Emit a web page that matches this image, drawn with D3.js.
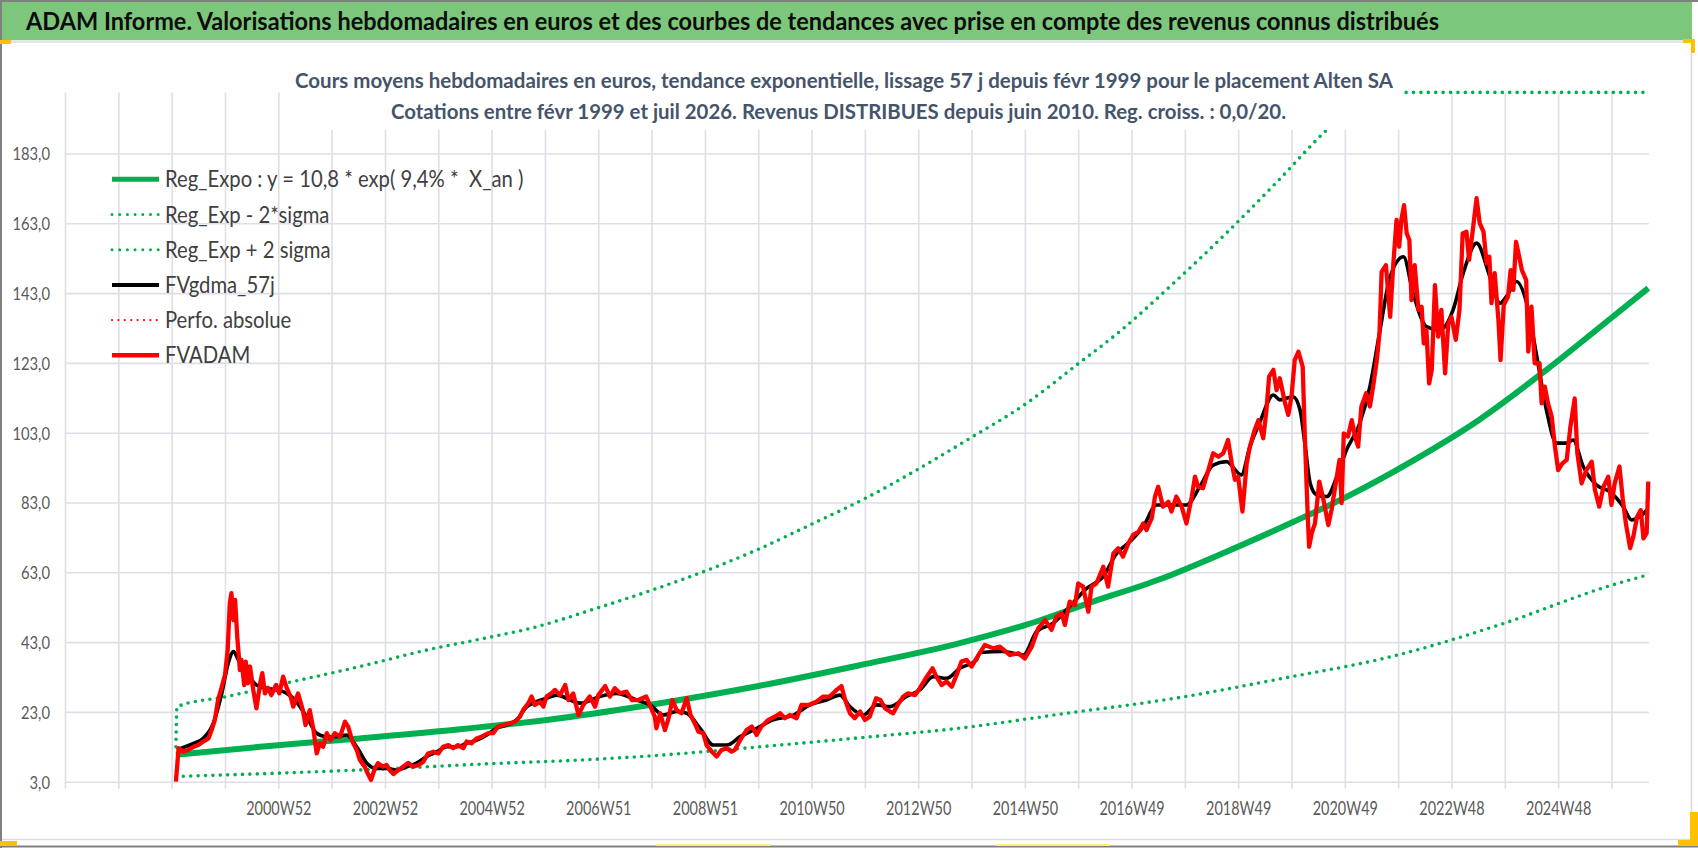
<!DOCTYPE html>
<html>
<head>
<meta charset="utf-8">
<script src="https://cdn.jsdelivr.net/npm/d3@7"></script>
<style>
	body { margin: 0; background: #fff; }
	svg { display: block; }
	text { font-family: Lato, 'Open Sans', sans-serif; }
</style>
</head>
<body>
<svg id="chart" width="1698" height="848"></svg>
<script>
// axis ticks / labels
const yTicks = [3, 23, 43, 63, 83, 103, 123, 143, 163, 183]
const yearGrid = d3.range(1997, 2027)
const xTickYears = [2001, 2003, 2005, 2007, 2009, 2011, 2013, 2015, 2017, 2019, 2021, 2023, 2025]
const xTickLabels = ['2000W52', '2002W52', '2004W52', '2006W51', '2008W51', '2010W50', '2012W50',
	'2014W50', '2016W49', '2018W49', '2020W49', '2022W48', '2024W48']

const legendLabels = [
	'Reg_Expo : y = 10,8 * exp( 9,4% *  X_an )',
	'Reg_Exp - 2*sigma',
	'Reg_Exp + 2 sigma',
	'FVgdma_57j',
	'Perfo. absolue',
	'FVADAM',
]

const bannerTitle = 'ADAM Informe. Valorisations hebdomadaires en euros et des courbes de tendances avec prise en compte des revenus connus distribués'
const subTitle1 = 'Cours moyens hebdomadaires en euros, tendance exponentielle, lissage 57 j depuis févr 1999 pour le placement Alten SA'
const subTitle2 = 'Cotations entre févr 1999 et juil 2026. Revenus DISTRIBUES depuis juin 2010. Reg. croiss. : 0,0/20.'

// series: [year position, value in euros]
const regExpo = [[1999.08, 10.7], [2000.66, 13.0], [2002.53, 15.4], [2004.41, 18.0], [2006.28, 21.2],
	[2008.16, 25.5], [2010.03, 30.5], [2011.91, 36.4], [2013.78, 42.7], [2015.03, 48.0], [2016.28, 54.6],
	[2017.53, 61.0], [2018.78, 68.9], [2020.03, 77.4], [2021.03, 84.6], [2022.28, 95.0], [2023.53, 106.8],
	[2024.78, 121.0], [2026.03, 136.3], [2026.69, 144.4]]

const regMinus = [[1999.08, 4.5], [2001.28, 5.6], [2003.16, 6.8], [2005.03, 8.2], [2006.66, 9.2],
	[2008.16, 10.6], [2010.03, 13.0], [2011.91, 15.6], [2013.75, 18.3], [2015.78, 22.6], [2017.81, 26.9],
	[2019.83, 32.6], [2021.86, 38.8], [2023.89, 47.9], [2025.92, 58.9], [2026.69, 62.3]]

const regPlus = [[1999.08, 13.0], [1999.10, 24.5], [2000.03, 27.4], [2001.28, 31.7], [2002.53, 36.0],
	[2003.78, 40.7], [2005.03, 44.6], [2005.72, 46.9], [2006.97, 52.7], [2007.97, 57.7], [2009.03, 63.5],
	[2009.97, 69.4], [2011.03, 77.0], [2011.97, 83.9], [2012.97, 92.3], [2013.97, 101.4], [2015.03, 111.4],
	[2015.97, 122.4], [2016.81, 132.4], [2017.8, 146], [2018.8, 160.5], [2019.8, 176], [2020.63, 189.3],
	[2021.5, 205], [2023, 235], [2024.5, 270], [2026.69, 330]]

const fvgdma = [[1999.10, 12.2], [1999.41, 14.0], [1999.59, 15.4], [1999.78, 19.7], [1999.94, 28.3],
	[2000.06, 36.9], [2000.16, 40.3], [2000.25, 37.9], [2000.41, 34.1], [2000.59, 30.7], [2000.78, 29.8],
	[2000.97, 29.3], [2001.16, 28.3], [2001.34, 25.9], [2001.53, 21.6], [2001.72, 16.9], [2001.91, 15.9],
	[2002.09, 15.9], [2002.28, 16.4], [2002.47, 13.0], [2002.66, 8.3], [2002.84, 6.8], [2003.03, 6.8],
	[2003.22, 6.3], [2003.41, 7.3], [2003.59, 8.3], [2003.78, 10.2], [2003.97, 11.6], [2004.16, 13.0],
	[2004.34, 13.0], [2004.53, 14.0], [2004.72, 14.9], [2004.91, 16.4], [2005.09, 18.3], [2005.28, 19.2],
	[2005.47, 20.7], [2005.66, 24.5], [2005.84, 25.9], [2006.03, 26.9], [2006.22, 27.8], [2006.66, 25.5],
	[2007.03, 27.4], [2007.34, 28.3], [2007.72, 26.4], [2007.97, 25.0], [2008.22, 22.1], [2008.47, 23.1],
	[2008.66, 22.6], [2008.91, 18.3], [2009.16, 13.5], [2009.41, 13.5], [2009.66, 15.9], [2009.97, 18.3],
	[2010.28, 20.7], [2010.66, 22.1], [2010.97, 25.0], [2011.28, 26.4], [2011.53, 27.8], [2011.72, 24.5],
	[2011.97, 22.1], [2012.22, 25.0], [2012.47, 24.5], [2012.78, 27.4], [2013.03, 29.3], [2013.28, 33.1],
	[2013.53, 32.6], [2013.78, 35.5], [2014.09, 37.9], [2014.16, 40.0], [2014.59, 40.3], [2014.97, 39.3],
	[2015.22, 46.0], [2015.53, 48.4], [2015.84, 53.2], [2016.16, 58.4], [2016.47, 61.8], [2016.72, 68.4],
	[2016.97, 71.8], [2017.22, 76.1], [2017.47, 82.3], [2017.72, 82.3], [2018.03, 82.3], [2018.28, 87.5],
	[2018.53, 93.7], [2018.78, 94.7], [2019.06, 90.9], [2019.22, 99.0], [2019.41, 106.2], [2019.66, 113.8],
	[2019.78, 112.4], [2020.03, 113.3], [2020.16, 109.5], [2020.25, 100.0], [2020.35, 88.5], [2020.47, 85.2],
	[2020.66, 84.7], [2020.85, 90.4], [2021.03, 98.0], [2021.28, 105.7], [2021.47, 116.2], [2021.66, 132.4],
	[2021.85, 147.7], [2022.10, 153.4], [2022.28, 142.9], [2022.53, 133.4], [2022.78, 132.4], [2023.03, 138.2],
	[2023.22, 148.7], [2023.47, 157.3], [2023.72, 147.7], [2023.91, 140.1], [2024.03, 142.0], [2024.22, 146.3],
	[2024.41, 140.1], [2024.60, 124.8], [2024.78, 109.5], [2024.97, 100.0], [2025.16, 100.0], [2025.28, 100.9],
	[2025.47, 93.3], [2025.72, 88.0], [2025.97, 86.1], [2026.22, 81.8], [2026.38, 78.0], [2026.53, 78.9],
	[2026.66, 80.8]]

const fvadam = [[1999.08, 3.0], [1999.13, 12.6], [1999.22, 11.6], [1999.31, 12.1], [1999.41, 13.0],
	[1999.50, 13.5], [1999.59, 14.5], [1999.69, 15.4], [1999.75, 17.8], [1999.81, 20.7], [1999.87, 26.4],
	[1999.94, 30.2], [2000.00, 33.6], [2000.05, 40.7], [2000.09, 54.1], [2000.12, 57.0], [2000.16, 49.3],
	[2000.19, 55.1], [2000.23, 44.6], [2000.28, 35.0], [2000.31, 37.9], [2000.36, 30.7], [2000.39, 37.4],
	[2000.43, 31.2], [2000.47, 36.0], [2000.53, 29.3], [2000.59, 24.0], [2000.66, 31.2], [2000.70, 34.1],
	[2000.75, 28.3], [2000.81, 29.8], [2000.87, 27.8], [2000.96, 30.7], [2001.02, 28.3], [2001.09, 33.1],
	[2001.16, 29.8], [2001.23, 27.4], [2001.28, 24.5], [2001.37, 28.3], [2001.46, 23.5], [2001.51, 19.2],
	[2001.59, 23.5], [2001.66, 17.8], [2001.72, 11.1], [2001.78, 14.0], [2001.84, 13.0], [2001.91, 16.9],
	[2001.98, 14.9], [2002.06, 16.9], [2002.16, 15.9], [2002.25, 20.2], [2002.31, 18.8], [2002.39, 14.5],
	[2002.47, 12.1], [2002.53, 9.2], [2002.62, 7.3], [2002.69, 4.9], [2002.74, 3.5], [2002.81, 6.8],
	[2002.87, 8.3], [2002.96, 7.3], [2003.03, 7.8], [2003.09, 6.3], [2003.16, 5.2], [2003.25, 6.3],
	[2003.34, 7.3], [2003.44, 8.4], [2003.53, 7.3], [2003.63, 7.8], [2003.72, 8.7], [2003.81, 11.1],
	[2003.91, 11.6], [2004.00, 11.1], [2004.09, 13.0], [2004.19, 13.5], [2004.28, 12.6], [2004.37, 13.5],
	[2004.47, 12.6], [2004.53, 14.5], [2004.62, 14.0], [2004.72, 15.4], [2004.81, 15.9], [2004.94, 16.9],
	[2005.03, 16.9], [2005.12, 18.8], [2005.22, 19.2], [2005.34, 19.7], [2005.44, 20.2], [2005.53, 21.6],
	[2005.59, 23.5], [2005.69, 25.5], [2005.75, 27.4], [2005.81, 25.0], [2005.91, 25.9], [2005.97, 24.5],
	[2006.03, 27.4], [2006.12, 28.3], [2006.19, 29.3], [2006.28, 27.8], [2006.38, 30.7], [2006.44, 26.4],
	[2006.53, 28.3], [2006.63, 22.1], [2006.72, 25.0], [2006.84, 27.4], [2006.94, 24.5], [2007.00, 27.8],
	[2007.13, 30.4], [2007.22, 27.4], [2007.31, 29.8], [2007.41, 28.3], [2007.53, 28.8], [2007.63, 26.4],
	[2007.75, 26.4], [2007.90, 27.4], [2007.98, 24.5], [2008.06, 21.6], [2008.09, 18.3], [2008.16, 22.6],
	[2008.25, 17.8], [2008.31, 20.7], [2008.39, 26.4], [2008.47, 23.5], [2008.56, 22.6], [2008.66, 26.9],
	[2008.73, 22.1], [2008.81, 19.7], [2008.88, 17.3], [2008.97, 16.9], [2009.03, 13.5], [2009.13, 11.6],
	[2009.22, 10.2], [2009.31, 12.1], [2009.41, 12.6], [2009.50, 11.6], [2009.56, 12.1], [2009.66, 14.9],
	[2009.78, 17.8], [2009.88, 18.8], [2009.97, 16.4], [2010.06, 18.8], [2010.19, 20.7], [2010.31, 21.6],
	[2010.41, 22.6], [2010.50, 21.2], [2010.59, 22.1], [2010.72, 21.2], [2010.81, 25.0], [2010.94, 25.0],
	[2011.09, 25.9], [2011.22, 27.4], [2011.34, 27.4], [2011.47, 29.3], [2011.56, 30.4], [2011.63, 26.4],
	[2011.72, 22.6], [2011.81, 21.2], [2011.91, 23.1], [2012.00, 20.7], [2012.09, 21.6], [2012.21, 26.9],
	[2012.29, 26.4], [2012.38, 24.0], [2012.47, 23.1], [2012.53, 22.6], [2012.63, 25.4], [2012.72, 27.4],
	[2012.81, 28.3], [2012.94, 27.8], [2013.03, 29.8], [2013.16, 33.1], [2013.27, 35.5], [2013.34, 33.1],
	[2013.44, 30.7], [2013.53, 31.7], [2013.63, 30.2], [2013.72, 33.6], [2013.81, 37.4], [2013.91, 37.9],
	[2014.00, 36.0], [2014.13, 39.3], [2014.25, 42.2], [2014.41, 41.2], [2014.53, 41.7], [2014.72, 39.3],
	[2014.88, 39.8], [2015.00, 38.3], [2015.13, 41.7], [2015.25, 46.9], [2015.38, 49.3], [2015.50, 46.5],
	[2015.59, 50.3], [2015.69, 51.2], [2015.75, 47.9], [2015.84, 54.6], [2015.94, 53.6], [2016.00, 59.8],
	[2016.09, 58.9], [2016.19, 51.7], [2016.25, 58.9], [2016.34, 59.8], [2016.47, 64.6], [2016.56, 58.9],
	[2016.66, 68.4], [2016.75, 69.9], [2016.84, 67.5], [2016.94, 71.3], [2017.03, 73.7], [2017.13, 74.6],
	[2017.22, 77.0], [2017.28, 75.1], [2017.38, 78.5], [2017.44, 84.7], [2017.50, 87.5], [2017.59, 81.8],
	[2017.69, 83.2], [2017.75, 80.4], [2017.84, 84.7], [2017.94, 81.8], [2018.03, 77.0], [2018.13, 84.7],
	[2018.19, 90.4], [2018.25, 87.5], [2018.34, 87.1], [2018.44, 92.3], [2018.53, 97.1], [2018.63, 96.1],
	[2018.72, 97.1], [2018.81, 100.9], [2018.88, 94.2], [2018.94, 89.5], [2019.00, 90.4], [2019.08, 80.4],
	[2019.16, 94.2], [2019.22, 99.0], [2019.31, 103.8], [2019.38, 106.6], [2019.47, 101.4], [2019.53, 109.5],
	[2019.58, 119.1], [2019.66, 121.0], [2019.72, 115.2], [2019.78, 118.6], [2019.88, 111.4], [2019.94, 108.1],
	[2020.00, 113.3], [2020.06, 123.8], [2020.13, 126.2], [2020.21, 121.9], [2020.25, 101.9], [2020.30, 80.8],
	[2020.33, 70.3], [2020.38, 74.2], [2020.44, 77.0], [2020.52, 89.0], [2020.60, 83.7], [2020.69, 76.5],
	[2020.75, 80.8], [2020.81, 86.6], [2020.90, 95.2], [2020.94, 82.8], [2020.98, 102.8], [2021.06, 101.9],
	[2021.13, 106.6], [2021.19, 101.9], [2021.25, 99.0], [2021.31, 110.5], [2021.40, 114.3], [2021.47, 110.5],
	[2021.53, 116.2], [2021.60, 123.8], [2021.65, 131.5], [2021.69, 149.1], [2021.77, 151.0], [2021.85, 136.2],
	[2021.91, 151.5], [2021.97, 164.0], [2022.02, 156.3], [2022.06, 164.0], [2022.11, 168.2], [2022.16, 160.1],
	[2022.21, 158.2], [2022.25, 141.0], [2022.31, 151.0], [2022.38, 138.2], [2022.44, 139.1], [2022.48, 128.6],
	[2022.53, 132.4], [2022.58, 117.1], [2022.63, 121.0], [2022.69, 145.3], [2022.75, 130.5], [2022.81, 138.2],
	[2022.88, 120.0], [2022.94, 134.3], [2023.00, 136.2], [2023.08, 129.6], [2023.15, 138.2], [2023.21, 160.1],
	[2023.28, 160.6], [2023.33, 152.5], [2023.40, 161.1], [2023.47, 170.2], [2023.53, 163.0], [2023.60, 160.6],
	[2023.66, 151.5], [2023.71, 153.4], [2023.75, 140.1], [2023.81, 148.7], [2023.88, 135.3], [2023.92, 123.8],
	[2023.98, 139.6], [2024.06, 142.0], [2024.11, 149.6], [2024.16, 143.9], [2024.21, 157.7], [2024.27, 153.4],
	[2024.32, 149.6], [2024.40, 146.7], [2024.44, 126.2], [2024.50, 139.1], [2024.56, 122.9], [2024.65, 122.9],
	[2024.69, 111.4], [2024.75, 116.2], [2024.81, 111.4], [2024.88, 107.6], [2024.94, 99.0], [2025.00, 92.3],
	[2025.08, 94.2], [2025.16, 95.2], [2025.23, 104.7], [2025.31, 112.8], [2025.36, 97.1], [2025.44, 88.5],
	[2025.53, 92.3], [2025.63, 94.7], [2025.69, 86.6], [2025.77, 81.8], [2025.85, 87.5], [2025.94, 90.4],
	[2026.00, 82.3], [2026.06, 88.5], [2026.15, 93.3], [2026.21, 84.2], [2026.27, 77.0], [2026.35, 69.9],
	[2026.41, 73.2], [2026.48, 78.9], [2026.55, 80.8], [2026.60, 72.7], [2026.66, 74.2], [2026.69, 89.0]]

const W = 1698
const H = 848
const plot = { left: 65, right: 1648.8, top: 92.4, bottom: 781.7 }
const GREEN = '#00B050'
const GRID = '#DCDFE5'
const LABEL = '#595959'

const svg = d3.select('#chart')

const x = d3.scaleLinear().domain([1997, 2026.7]).range([plot.left, plot.right])
// excel draws values above the axis max along the top edge
const y = d3.scaleLinear().domain([3, 200.5]).range([plot.bottom, plot.top]).clamp(true)

const frLocale = d3.formatLocale({ decimal: ',', thousands: ' ', grouping: [3], currency: ['', ' €'] })
const fmt = frLocale.format('.1f')

function squish(sel, k) {
	sel.each(function() {
		const w = this.getComputedTextLength()
		d3.select(this).attr('textLength', w * k).attr('lengthAdjust', 'spacingAndGlyphs')
	})
}

function drawFrame() {
	svg.append('rect').attr('width', W).attr('height', H).attr('fill', '#fff')
	svg.append('rect')
		.attr('x', 0).attr('y', 0).attr('width', 1692).attr('height', 40)
		.attr('fill', '#7DC77D')
	svg.append('rect')
		.attr('x', 0).attr('y', 40).attr('width', 1692).attr('height', 3)
		.attr('fill', '#E3E6EA')
	svg.append('line')
		.attr('x1', 1691.5).attr('x2', 1691.5).attr('y1', 40).attr('y2', 840)
		.attr('stroke', '#D5D8DD').attr('stroke-width', 1.5)
	svg.append('line')
		.attr('x1', 0).attr('x2', 1692).attr('y1', 839.5).attr('y2', 839.5)
		.attr('stroke', '#DADDE2').attr('stroke-width', 1.5)
	// outer grey border
	svg.append('path')
		.attr('d', `M1,${H} V1 H${W} M0,${H - 1.5} H${W}`)
		.attr('fill', 'none').attr('stroke', '#808080').attr('stroke-width', 2)

	// selection handles of the sheet
	const handles = [
		[0, 40, 11, 4, '#FFC000'], [1683, 39, 12, 4, '#FFC000'], [1691, 39, 4, 14, '#FFC000'],
		[1690, 812, 8, 34, '#FFC000'], [1678, 840, 20, 6, '#FFC000'], [0, 841, 17, 5, '#FFC000'],
		[656, 844, 114, 2, '#FFF176'], [996, 844, 114, 2, '#FFF176'],
	]
	svg.selectAll('.handle').data(handles).enter()
		.append('rect')
			.attr('class', 'handle')
			.attr('x', d => d[0]).attr('y', d => d[1])
			.attr('width', d => d[2]).attr('height', d => d[3])
			.attr('fill', d => d[4])

	svg.append('text')
		.attr('x', 26).attr('y', 30)
		.attr('font-size', 24.5).attr('font-weight', 700).attr('fill', '#0d0d0d')
		.attr('textLength', 1413).attr('lengthAdjust', 'spacingAndGlyphs')
		.text(bannerTitle)
}

function drawGrid() {
	svg.append('g')
		.attr('transform', `translate(0,${plot.bottom + 7})`)
		.call(d3.axisBottom(x).tickValues(yearGrid).tickSize(-(plot.bottom + 7 - plot.top)).tickFormat(''))
		.call(g => g.select('.domain').remove())
		.call(g => g.selectAll('line').attr('stroke', GRID).attr('stroke-width', 1.6))

	svg.append('g')
		.attr('transform', `translate(${plot.left},0)`)
		.call(d3.axisLeft(y).tickValues(yTicks).tickSize(-(plot.right - plot.left)).tickFormat(''))
		.call(g => g.select('.domain').remove())
		.call(g => g.selectAll('line').attr('stroke', GRID).attr('stroke-width', 1.6))
}

function drawAxes() {
	const ya = svg.append('g')
		.attr('transform', `translate(${plot.left},0)`)
		.call(d3.axisLeft(y).tickValues(yTicks).tickSize(0).tickPadding(15).tickFormat(fmt))
		.attr('font-family', 'Lato, sans-serif').attr('font-size', 18)
	ya.select('.domain').remove()
	ya.selectAll('text').attr('fill', LABEL).attr('dy', '0.36em').call(squish, 0.82)

	const xa = svg.append('g')
		.attr('transform', `translate(0,${plot.bottom})`)
		.call(d3.axisBottom(x).tickValues(xTickYears).tickSize(0).tickPadding(20)
			.tickFormat((d, i) => xTickLabels[i]))
		.attr('font-family', 'Lato, sans-serif').attr('font-size', 18.8)
	xa.select('.domain').remove()
	xa.selectAll('text').attr('fill', LABEL).call(squish, 0.77)
}

function drawSeries() {
	const smooth = d3.line().curve(d3.curveMonotoneX).x(d => x(d[0])).y(d => y(d[1]))
	const jagged = d3.line().x(d => x(d[0])).y(d => y(d[1]))

	svg.append('path').datum(regExpo)
		.attr('d', smooth).attr('fill', 'none')
		.attr('stroke', GREEN).attr('stroke-width', 6)

	;[regMinus, regPlus].forEach(band => {
		svg.append('path').datum(band)
			.attr('d', smooth).attr('fill', 'none')
			.attr('stroke', GREEN).attr('stroke-width', 3.6)
			.attr('stroke-linecap', 'round').attr('stroke-dasharray', '0 7.4')
	})

	svg.append('path').datum(fvgdma)
		.attr('d', smooth).attr('fill', 'none')
		.attr('stroke', '#000').attr('stroke-width', 3.6).attr('stroke-linejoin', 'round')

	svg.append('path').datum(fvadam)
		.attr('d', jagged).attr('fill', 'none')
		.attr('stroke', '#FF0000').attr('stroke-width', 4.3).attr('stroke-linejoin', 'round')
}

function drawTitles() {
	// title box of the chart hides whatever runs under it
	svg.append('rect')
		.attr('x', 288).attr('y', 46).attr('width', 1113).attr('height', 84)
		.attr('fill', '#fff')

	svg.append('text')
		.attr('x', 295).attr('y', 87.5)
		.attr('font-size', 21.5).attr('font-weight', 700).attr('fill', '#44546A')
		.attr('textLength', 1098).attr('lengthAdjust', 'spacingAndGlyphs')
		.text(subTitle1)
	svg.append('text')
		.attr('x', 391).attr('y', 118.5)
		.attr('font-size', 21.5).attr('font-weight', 700).attr('fill', '#44546A')
		.attr('textLength', 895).attr('lengthAdjust', 'spacingAndGlyphs')
		.text(subTitle2)
}

function drawLegend() {
	const styles = [
		{ stroke: GREEN, width: 5, dash: null },
		{ stroke: GREEN, width: 3, dash: '0 7.7' },
		{ stroke: GREEN, width: 3, dash: '0 7.7' },
		{ stroke: '#000', width: 4, dash: null },
		{ stroke: '#FF0000', width: 2.2, dash: '0 6.4' },
		{ stroke: '#FF0000', width: 4.5, dash: null },
	]
	const item = svg.selectAll('.legend-item').data(legendLabels).enter()
		.append('g')
			.attr('class', 'legend-item')
			.attr('transform', (d, i) => `translate(0,${179.3 + i * 35.2})`)

	item.append('line')
		.attr('x1', 112).attr('x2', 159)
		.attr('stroke', (d, i) => styles[i].stroke)
		.attr('stroke-width', (d, i) => styles[i].width)
		.attr('stroke-dasharray', (d, i) => styles[i].dash)
		.attr('stroke-linecap', (d, i) => styles[i].dash ? 'round' : 'butt')

	item.append('text')
		.attr('x', 165).attr('y', 8)
		.attr('font-size', 22.5).attr('fill', '#404040')
		.style('white-space', 'pre')
		.text(d => d)
		.call(squish, 0.9)
}

drawFrame()
drawGrid()
drawSeries()
drawAxes()
drawTitles()
drawLegend()
</script>
</body>
</html>
